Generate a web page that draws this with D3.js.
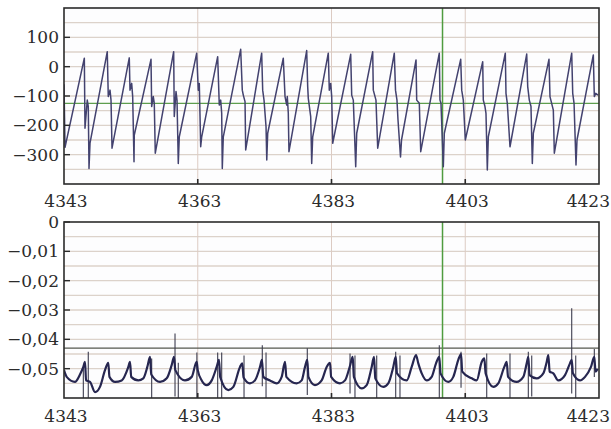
<!DOCTYPE html>
<html>
<head>
<meta charset="utf-8">
<script src="https://cdn.jsdelivr.net/npm/d3@7"></script>
<style>
  html, body { margin: 0; padding: 0; background: #ffffff; }
  svg { display: block; }
  text { font-family: "DejaVu Serif", "Liberation Serif", serif; fill: #2b2b2b; }
</style>
</head>
<body>
<svg id="chart" width="611" height="429"></svg>
<script>
// ---------------- DATA ----------------
const xDomain = [4343, 4423];
const xTickValues = [4343, 4363, 4383, 4403, 4423];
const xGridValues = [4363, 4383, 4403];

const topDomain = [-400, 200];
const topTickValues = [-300, -200, -100, 0, 100];
const topGridValues = [-350, -300, -250, -200, -150, -100, -50, 0, 50, 100, 150];
const topMarkerY = -125;

const botDomain = [-0.06, 0];
const botTickValues = [-0.05, -0.04, -0.03, -0.02, -0.01, 0];
const botGridValues = [-0.055, -0.05, -0.045, -0.04, -0.035, -0.03, -0.025, -0.02, -0.015, -0.01, -0.005];
const botMarkerY = -0.043;

const markerX = 4399.6;

// upper trace: [time, value]
const topSeries = [
  [4343.00,-60],[4343.15,-275],
  [4346.04,29],[4346.14,-210],[4346.48,-114],[4346.63,-136],[4346.74,-347],[4346.89,-261],
  [4349.47,51],[4349.62,-102],[4349.88,-80],[4350.03,-114],[4350.18,-278],
  [4352.76,30],[4352.87,-80],[4353.12,-57],[4353.27,-102],[4353.47,-324],[4353.51,-233],
  [4356.01,25],[4356.11,-136],[4356.35,-102],[4356.50,-125],[4356.65,-295],
  [4359.40,51],[4359.49,-170],[4359.75,-85],[4359.90,-114],[4360.09,-330],[4360.24,-239],
  [4362.84,46],[4363.08,-80],[4363.23,-57],[4363.44,-273],[4363.59,-239],
  [4365.98,34],[4366.22,-131],[4366.43,-114],[4366.58,-159],[4366.67,-347],[4366.82,-239],
  [4369.42,59],[4369.66,-80],[4369.81,-97],[4370.07,-119],[4370.17,-284],
  [4372.56,46],[4372.71,-80],[4372.91,-114],[4373.21,-205],[4373.32,-318],[4373.46,-227],
  [4375.79,29],[4376.05,-102],[4376.30,-131],[4376.39,-102],[4376.54,-159],[4376.64,-290],
  [4379.29,55],[4379.44,-68],[4379.53,-108],[4379.89,-170],[4380.04,-330],[4380.19,-239],
  [4382.52,46],[4382.67,-80],[4382.88,-57],[4383.03,-102],[4383.18,-261],
  [4385.87,42],[4386.02,-97],[4386.26,-114],[4386.62,-341],[4386.77,-227],
  [4389.16,51],[4389.25,-80],[4389.65,-114],[4389.91,-278],
  [4392.39,46],[4392.57,-80],[4392.79,-114],[4392.94,-180],[4393.32,-308],[4393.47,-250],
  [4395.64,23],[4395.74,-114],[4396.13,-125],[4396.34,-290],
  [4399.12,46],[4399.22,-114],[4399.37,-125],[4399.72,-341],[4399.87,-227],
  [4402.32,25],[4402.47,-80],[4402.71,-114],[4403.01,-250],
  [4405.61,17],[4405.70,-114],[4405.95,-136],[4406.10,-159],[4406.30,-352],[4406.45,-239],
  [4408.99,46],[4409.09,-91],[4409.29,-125],[4409.69,-273],
  [4412.19,43],[4412.34,-68],[4412.58,-114],[4412.83,-136],[4413.03,-330],[4413.18,-227],
  [4415.52,25],[4415.67,-102],[4416.17,-148],[4416.32,-295],
  [4418.92,46],[4419.07,-91],[4419.27,-125],[4419.56,-335],[4419.71,-250],
  [4422.15,40],[4422.30,-102],[4422.51,-91],[4422.85,-97]
];

// lower trace (slow part): [time, value]
const botSeries = [
  [4343.00,-0.0505],[4343.40,-0.0528],[4344.64,-0.0545],[4345.39,-0.0520],[4345.89,-0.0494],[4346.14,-0.0477],
  [4346.30,-0.0540],[4346.89,-0.0545],[4347.64,-0.0580],[4348.38,-0.0562],[4349.13,-0.0505],[4349.62,-0.0480],
  [4349.80,-0.0528],[4350.63,-0.0545],[4351.63,-0.0540],[4352.62,-0.0494],[4352.87,-0.0477],
  [4353.05,-0.0528],[4354.11,-0.0540],[4354.86,-0.0533],[4355.46,-0.0494],[4355.86,-0.0460],
  [4356.05,-0.0520],[4357.36,-0.0545],[4358.36,-0.0533],[4359.10,-0.0488],[4359.45,-0.0460],
  [4359.65,-0.0505],[4361.09,-0.0540],[4362.10,-0.0528],[4362.84,-0.0477],
  [4363.00,-0.0505],[4363.59,-0.0540],[4364.34,-0.0556],[4365.09,-0.0540],[4365.83,-0.0494],[4366.18,-0.0470],
  [4366.35,-0.0528],[4367.57,-0.0573],[4368.32,-0.0562],[4369.32,-0.0494],[4369.66,-0.0482],
  [4369.85,-0.0530],[4370.81,-0.0550],[4371.56,-0.0540],[4372.31,-0.0494],[4372.60,-0.0470],
  [4372.80,-0.0528],[4373.80,-0.0540],[4374.81,-0.0550],[4375.55,-0.0528],[4376.05,-0.0477],
  [4376.25,-0.0528],[4377.80,-0.0550],[4378.54,-0.0540],[4379.04,-0.0494],[4379.38,-0.0470],
  [4379.55,-0.0528],[4380.53,-0.0556],[4381.53,-0.0540],[4382.28,-0.0494],[4382.78,-0.0480],
  [4382.95,-0.0528],[4384.27,-0.0550],[4385.02,-0.0540],[4385.77,-0.0490],[4386.17,-0.0460],
  [4386.35,-0.0528],[4387.52,-0.0567],[4388.26,-0.0556],[4389.01,-0.0494],[4389.36,-0.0460],
  [4389.55,-0.0533],[4390.75,-0.0562],[4391.49,-0.0550],[4392.24,-0.0494],[4392.60,-0.0460],
  [4392.80,-0.0516],[4394.25,-0.0540],[4394.99,-0.0494],[4395.64,-0.0454],
  [4395.98,-0.0482],[4396.49,-0.0516],[4397.24,-0.0540],[4397.98,-0.0528],[4398.63,-0.0482],[4399.12,-0.0460],
  [4399.30,-0.0516],[4400.47,-0.0545],[4401.21,-0.0528],[4401.96,-0.0470],[4402.37,-0.0450],
  [4402.55,-0.0510],[4403.97,-0.0533],[4404.71,-0.0540],[4405.46,-0.0477],[4405.85,-0.0465],
  [4406.05,-0.0516],[4407.20,-0.0562],[4407.94,-0.0550],[4408.84,-0.0494],[4409.20,-0.0477],
  [4409.40,-0.0528],[4410.69,-0.0545],[4411.68,-0.0528],[4412.19,-0.0482],[4412.43,-0.0460],
  [4412.62,-0.0522],[4413.68,-0.0533],[4414.67,-0.0516],[4415.18,-0.0477],[4415.42,-0.0454],
  [4415.62,-0.0510],[4416.17,-0.0516],[4416.91,-0.0540],[4417.92,-0.0522],[4418.66,-0.0482],[4418.92,-0.0470],
  [4419.10,-0.0516],[4420.16,-0.0540],[4420.91,-0.0528],[4421.80,-0.0494],[4422.30,-0.0460],
  [4422.48,-0.0510],[4422.81,-0.0500]
];

// lower trace (fast spikes): [time, upper value, lower value]
const botSpikes = [
  [4345.89,-0.0494,-0.0600],[4346.63,-0.0442,-0.0600],[4356.11,-0.0465,-0.0600],
  [4359.60,-0.0380,-0.0595],[4360.09,-0.0480,-0.0600],[4362.87,-0.0445,-0.0600],
  [4365.98,-0.0445,-0.0600],[4366.58,-0.0445,-0.0600],[4369.92,-0.0455,-0.0600],
  [4372.65,-0.0420,-0.0560],[4373.21,-0.0445,-0.0600],[4379.38,-0.0430,-0.0590],
  [4385.77,-0.0448,-0.0585],[4386.51,-0.0455,-0.0600],[4389.76,-0.0455,-0.0600],
  [4392.60,-0.0442,-0.0600],[4393.24,-0.0455,-0.0600],[4399.12,-0.0420,-0.0600],
  [4402.37,-0.0442,-0.0565],[4406.21,-0.0448,-0.0600],[4409.69,-0.0448,-0.0600],
  [4412.43,-0.0442,-0.0600],[4412.94,-0.0455,-0.0595],[4418.92,-0.0294,-0.0585],
  [4419.52,-0.0455,-0.0600],[4422.30,-0.0433,-0.0528]
];

// ---------------- LAYOUT / STYLE ----------------
const svg = d3.select("#chart");
const left = 64, right = 599;
const panels = [
  { id: "top", top: 8, bottom: 184, domain: topDomain, ticks: topTickValues, grid: topGridValues,
    data: topSeries, spikes: [], curve: d3.curveLinear, markerY: topMarkerY, markerColor: "#5e9e4e",
    lineColor: "#43426f", lineWidth: 1.5,
    fmt: d => d3.format("d")(d).replace("-", "\u2212"), labelBase: 206.5 },
  { id: "bot", top: 222, bottom: 398, domain: botDomain, ticks: botTickValues, grid: botGridValues,
    data: botSeries, spikes: botSpikes, curve: d3.curveMonotoneX, markerY: botMarkerY, markerColor: "#55574e",
    lineColor: "#262650", lineWidth: 2.2,
    fmt: d => d === 0 ? "0" : d3.format(".2f")(d).replace("-", "\u2212").replace(".", ","), labelBase: 421.5 }
];

const x = d3.scaleLinear().domain(xDomain).range([left, right]);

panels.forEach(p => {
  const y = d3.scaleLinear().domain(p.domain).range([p.bottom, p.top]);
  const g = svg.append("g");

  g.append("clipPath").attr("id", "clip-" + p.id)
    .append("rect").attr("x", left).attr("y", p.top).attr("width", right - left).attr("height", p.bottom - p.top);

  g.append("rect").attr("x", left).attr("y", p.top).attr("width", right - left).attr("height", p.bottom - p.top)
    .attr("fill", "#fdfdfe");

  // horizontal grid
  g.selectAll(".hg").data(p.grid).enter().append("line")
    .attr("x1", left).attr("x2", right)
    .attr("y1", d => y(d)).attr("y2", d => y(d))
    .attr("stroke", "#dcd2ca").attr("stroke-width", 1.3);

  // vertical grid
  g.selectAll(".vg").data(xGridValues).enter().append("line")
    .attr("x1", d => x(d)).attr("x2", d => x(d))
    .attr("y1", p.top).attr("y2", p.bottom)
    .attr("stroke", "#dccbc3").attr("stroke-width", 1);

  // horizontal marker
  g.append("line").attr("x1", left).attr("x2", right)
    .attr("y1", y(p.markerY)).attr("y2", y(p.markerY))
    .attr("stroke", p.markerColor).attr("stroke-width", 1.4);

  // vertical marker
  g.append("line").attr("x1", x(markerX)).attr("x2", x(markerX))
    .attr("y1", p.top).attr("y2", p.bottom)
    .attr("stroke", "#4f9c3f").attr("stroke-width", 1.5);

  // spikes
  g.selectAll(".sp").data(p.spikes).enter().append("line")
    .attr("clip-path", "url(#clip-" + p.id + ")")
    .attr("x1", d => x(d[0])).attr("x2", d => x(d[0]))
    .attr("y1", d => y(d[1])).attr("y2", d => y(d[2]))
    .attr("stroke", "#3c3c4e").attr("stroke-width", 1.1);

  // data line
  const line = d3.line().curve(p.curve).x(d => x(d[0])).y(d => y(d[1]));
  g.append("path").datum(p.data)
    .attr("clip-path", "url(#clip-" + p.id + ")")
    .attr("d", line)
    .attr("fill", "none")
    .attr("stroke", p.lineColor)
    .attr("stroke-width", p.lineWidth)
    .attr("stroke-linejoin", "round");

  // y ticks (inward) + labels
  g.selectAll(".yt").data(p.ticks).enter().append("line")
    .attr("x1", left).attr("x2", left + 6)
    .attr("y1", d => y(d)).attr("y2", d => y(d))
    .attr("stroke", "#2a2a2a").attr("stroke-width", 1.4);
  g.selectAll(".yl").data(p.ticks).enter().append("text")
    .attr("x", 59).attr("y", d => y(d)).attr("dy", "0.36em")
    .attr("text-anchor", "end").attr("font-size", 17)
    .text(p.fmt);

  // x ticks (inward) + labels
  g.selectAll(".xt").data(xGridValues).enter().append("line")
    .attr("x1", d => x(d)).attr("x2", d => x(d))
    .attr("y1", p.bottom).attr("y2", p.bottom - 5)
    .attr("stroke", "#2a2a2a").attr("stroke-width", 1.6);
  g.selectAll(".xl").data(xTickValues).enter().append("text")
    .attr("x", (d, i) => i === xTickValues.length - 1 ? 610 : x(d) + 2)
    .attr("y", p.labelBase)
    .attr("text-anchor", (d, i) => i === xTickValues.length - 1 ? "end" : "middle")
    .attr("font-size", 17)
    .text(d => d);

  // frame
  g.append("rect").attr("x", left).attr("y", p.top).attr("width", right - left).attr("height", p.bottom - p.top)
    .attr("fill", "none").attr("stroke", "#2b2b2b").attr("stroke-width", 1.6);
});
</script>
</body>
</html>
